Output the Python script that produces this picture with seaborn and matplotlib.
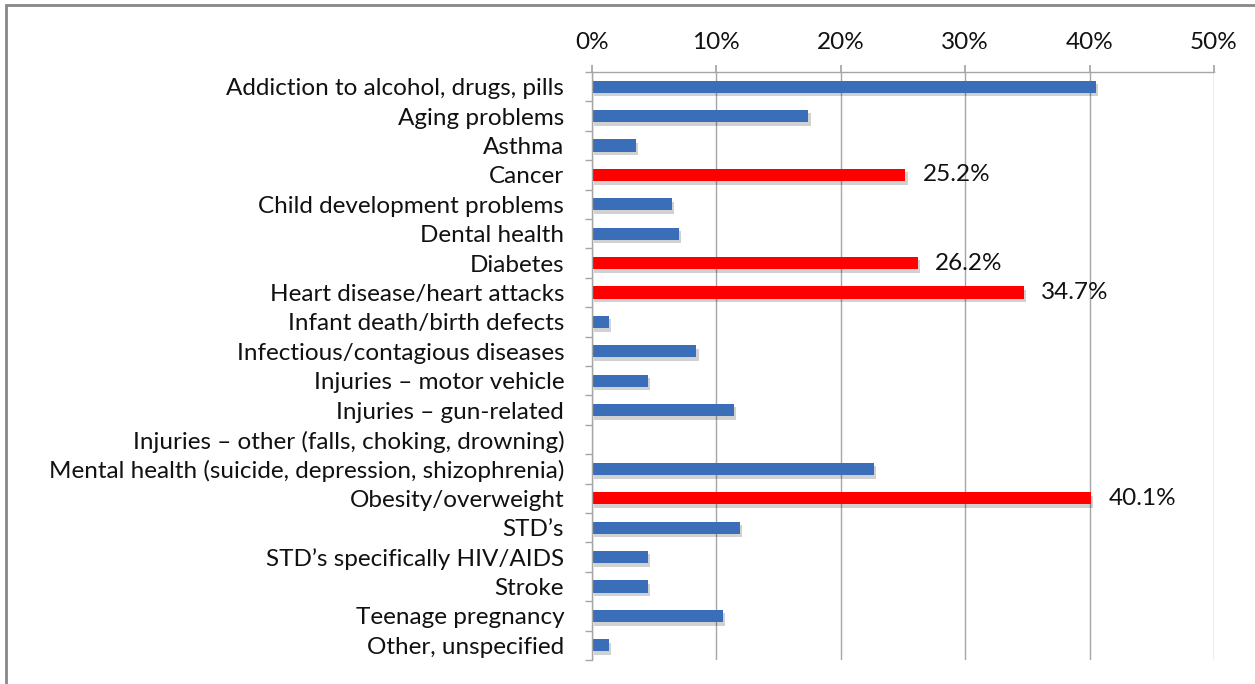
import pandas as pd
import matplotlib.pyplot as plt
import matplotlib.patheffects as pe
from matplotlib.patches import Rectangle
from matplotlib.ticker import PercentFormatter
import seaborn as sns

sns.set_theme(style="white")
plt.rcParams['font.family'] = ['Lato', 'DejaVu Sans']

# datos
categorias = [
    "Addiction to alcohol, drugs, pills",
    "Aging problems",
    "Asthma",
    "Cancer",
    "Child development problems",
    "Dental health",
    "Diabetes",
    "Heart disease/heart attacks",
    "Infant death/birth defects",
    "Infectious/contagious diseases",
    "Injuries \u2013 motor vehicle",
    "Injuries \u2013 gun-related",
    "Injuries \u2013 other (falls, choking, drowning)",
    "Mental health (suicide, depression, shizophrenia)",
    "Obesity/overweight",
    "STD\u2019s",
    "STD\u2019s specifically HIV/AIDS",
    "Stroke",
    "Teenage pregnancy",
    "Other, unspecified",
]
valores = [40.5, 17.4, 3.5, 25.2, 6.4, 7.0, 26.2, 34.7, 1.4, 8.4,
           4.5, 11.4, 0.0, 22.7, 40.1, 11.9, 4.5, 4.5, 10.5, 1.4]
destacados = ["Cancer", "Diabetes", "Heart disease/heart attacks", "Obesity/overweight"]

df = pd.DataFrame({"Problema": categorias, "Porcentaje": valores})
df["Grupo"] = ["rojo" if c in destacados else "azul" for c in categorias]

fig = plt.figure(figsize=(12.55, 6.84), dpi=100)
ax = fig.add_axes([0.4717, 0.0351, 0.4956, 0.8596])

sns.barplot(data=df, x="Porcentaje", y="Problema", hue="Grupo",
            palette={"azul": "#3b6eb8", "rojo": "#ff0000"}, saturation=1,
            dodge=False, legend=False, width=0.42, linewidth=0, ax=ax)

# sombra suave bajo las barras
for p in ax.patches:
    p.set_path_effects([pe.SimplePatchShadow(offset=(1.5, -2.5), shadow_rgbFace="#000000",
                                             alpha=0.18), pe.Normal()])

ax.set_xlim(0, 50)
ax.set_xticks([0, 10, 20, 30, 40, 50])
ax.xaxis.set_major_formatter(PercentFormatter(decimals=0))
ax.xaxis.tick_top()
ax.set_xlabel("")
ax.set_ylabel("")
ax.grid(axis="x", color="#a6a6a6", linewidth=1)
ax.set_axisbelow(True)

for s in ["bottom", "right"]:
    ax.spines[s].set_visible(False)
for s in ["top", "left"]:
    ax.spines[s].set_color("#a6a6a6")
    ax.spines[s].set_linewidth(1)

ax.tick_params(axis="x", which="major", top=True, length=5, color="#a6a6a6",
               labelsize=17.5, pad=9, labelcolor="#111111")
ax.tick_params(axis="y", which="major", left=False, labelsize=17.5, pad=14,
               labelcolor="#111111")
# marcas entre categorías en el eje y
ax.set_yticks([i + 0.5 for i in range(-1, len(categorias))], minor=True)
ax.tick_params(axis="y", which="minor", left=True, length=5, color="#a6a6a6")
ax.set_ylim(len(categorias) - 0.5, -0.5)

# etiquetas de las barras rojas
for i, (c, v) in enumerate(zip(categorias, valores)):
    if c in destacados:
        ax.text(v + 1.4, i, f"{v:.1f}%", va="center", ha="left", fontsize=17.5, color="#111111")

# marco exterior
fig.patches.append(Rectangle((6 / 1255, -0.02), 1.1, 1 - 5 / 684 + 0.02,
                             transform=fig.transFigure, fill=False,
                             edgecolor="#888888", linewidth=2))

fig.savefig("out.png", dpi=100)
